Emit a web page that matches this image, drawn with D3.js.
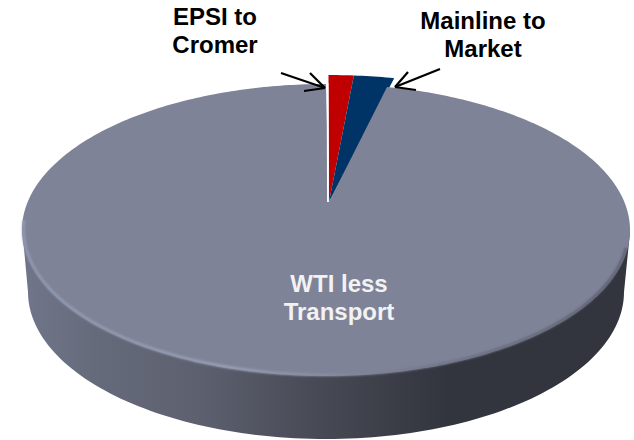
<!DOCTYPE html>
<html>
<head>
<meta charset="utf-8">
<style>
  html, body { margin: 0; padding: 0; background: #fff; }
  svg { display: block; }
  text { font-family: "Liberation Sans", Arial, sans-serif; font-weight: 700; font-size: 24px; text-anchor: middle; }
</style>
<script src="https://d3js.org/d3.v7.min.js"></script>
</head>
<body>
<svg id="chart" width="634" height="440"></svg>
<script>
// Share of the netback by component, in percent
const categories = ["EPSI to Cromer", "Mainline to Market", "WTI less Transport"];
const shares = [1.5, 2.4, 96.1];
const sliceColors = ["#c00000", "#003366", "#7f8397"];
const labelLines = [["EPSI to", "Cromer"], ["Mainline to", "Market"], ["WTI less", "Transport"]];

const svg = d3.select("#chart");
const defs = svg.append("defs");

// Layout of the tilted disc on the page
const disc = { cx: 326, halfWidth: 304, top: 84, hub: 202, bottom: 376 };
const wedgeReach = 1.092;   // the two small slices stand proud of the rim
const hubShift = 3;         // hub sits just right of the rim's centre line

// Perspective constants: the disc's centre lands on the hub, its rim on the outline
const persp = (2 * disc.hub - disc.top - disc.bottom) / (disc.top - disc.bottom);
const lift = disc.top * (1 + persp) - disc.hub;
const spread = disc.halfWidth * Math.sqrt(1 - persp * persp);

function project(u, v) {
  const w = 1 + persp * v;
  return [disc.cx + spread * u / w, (disc.hub + lift * v) / w];
}
const outline = d3.line().curve(d3.curveLinear);

function rimPoints(a0, a1, reach, shift) {
  const n = Math.max(2, Math.ceil(Math.abs(a1 - a0) * 60));
  return d3.range(n + 1).map(i => {
    const a = a0 + (a1 - a0) * i / n;
    return project(shift + reach * Math.sin(a), reach * Math.cos(a));
  });
}

const arcs = d3.pie().sort(null).value(d => d)(shares);
const u0 = hubShift / spread;

// Side wall: horizontal shading across the lower half of the drum
const wallFill = defs.append("linearGradient").attr("id", "wall")
  .attr("gradientUnits", "userSpaceOnUse").attr("x1", 22).attr("x2", 630).attr("y1", 0).attr("y2", 0);
[[0, "#70758a"], [0.13, "#656a7a"], [0.3, "#5c5f6e"], [0.48, "#484a55"], [0.7, "#32353e"], [1, "#32353e"]]
  .forEach(([o, c]) => wallFill.append("stop").attr("offset", o).attr("stop-color", c));

const rimFill = defs.append("linearGradient").attr("id", "rim")
  .attr("gradientUnits", "userSpaceOnUse").attr("x1", 22).attr("x2", 630).attr("y1", 0).attr("y2", 0);
[[0, "#8f9bb3"], [0.35, "#9aa2b6"], [0.52, "#858a9e"], [0.75, "#6a6d7e"], [1, "#5a5d6c"]]
  .forEach(([o, c]) => rimFill.append("stop").attr("offset", o).attr("stop-color", c));

const soft = defs.append("filter").attr("id", "soft")
  .attr("x", "-5%").attr("y", "-5%").attr("width", "110%").attr("height", "110%");
soft.append("feGaussianBlur").attr("stdDeviation", 0.8);

const wallBottom = { cy: 292, rx: 298, ry: 147 };
const wallPts = [[22.5, 232], [28, wallBottom.cy]];
d3.range(1, 120).forEach(i => {
  const a = Math.PI - Math.PI * i / 120;
  wallPts.push([disc.cx + wallBottom.rx * Math.cos(a), wallBottom.cy + wallBottom.ry * Math.sin(a)]);
});
wallPts.push([624, wallBottom.cy], [630, 232]);
svg.append("path").attr("d", outline(wallPts) + "Z").attr("fill", "url(#wall)");

// Slices across the top of the drum
svg.selectAll("path.slice").data(arcs).join("path")
  .attr("class", "slice")
  .attr("fill", (d, i) => sliceColors[i])
  .attr("d", (d, i) => {
    const big = i === arcs.length - 1;
    const hub = project(u0, 0);
    const rim = big ? rimPoints(d.startAngle, d.endAngle, 1, 0)
                    : rimPoints(d.startAngle, d.endAngle, wedgeReach, u0);
    return outline([hub, ...rim]) + "Z";
  });

// Light bevel along the front of the rim only, kept just inside the disc
svg.append("path")
  .attr("d", outline(rimPoints(Math.PI * 0.6, Math.PI * 1.46, 0.995, 0)))
  .attr("fill", "none").attr("stroke", "url(#rim)").attr("stroke-width", 2.6).attr("filter", "url(#soft)");

// White seam where the first slice begins
const seamTop = project(u0, 1);
const seamEnd = project(u0, 0);
svg.append("line").attr("x1", seamTop[0] - 1).attr("x2", seamEnd[0] - 1)
  .attr("y1", seamTop[1] - 1).attr("y2", seamEnd[1])
  .attr("stroke", "#fff").attr("stroke-width", 1.8);

// Call-out arrows pointing at the two small slices
const callouts = [
  { tip: [325, 88], tail: [281, 73], barbs: [[310, 73], [304, 91]] },
  { tip: [395, 87], tail: [440, 69], barbs: [[408, 72], [416, 90]] }
];
callouts.forEach(c => {
  [c.tail, ...c.barbs].forEach(p => {
    svg.append("line").attr("x1", p[0]).attr("y1", p[1]).attr("x2", c.tip[0]).attr("y2", c.tip[1])
      .attr("stroke", "#000").attr("stroke-width", 2.2).attr("stroke-linecap", "butt");
  });
});

// Slice names
const labelSpots = [
  { x: 215, y: 25, color: "#000" },
  { x: 483, y: 29, color: "#000" },
  { x: 339, y: 292, color: "#f2f2f2" }
];
labelLines.forEach((lines, i) => {
  const t = svg.append("text").attr("fill", labelSpots[i].color).attr("aria-label", categories[i]);
  lines.forEach((line, j) => {
    t.append("tspan").attr("x", labelSpots[i].x).attr("y", labelSpots[i].y + j * 28).text(line);
  });
});
</script>
</body>
</html>
